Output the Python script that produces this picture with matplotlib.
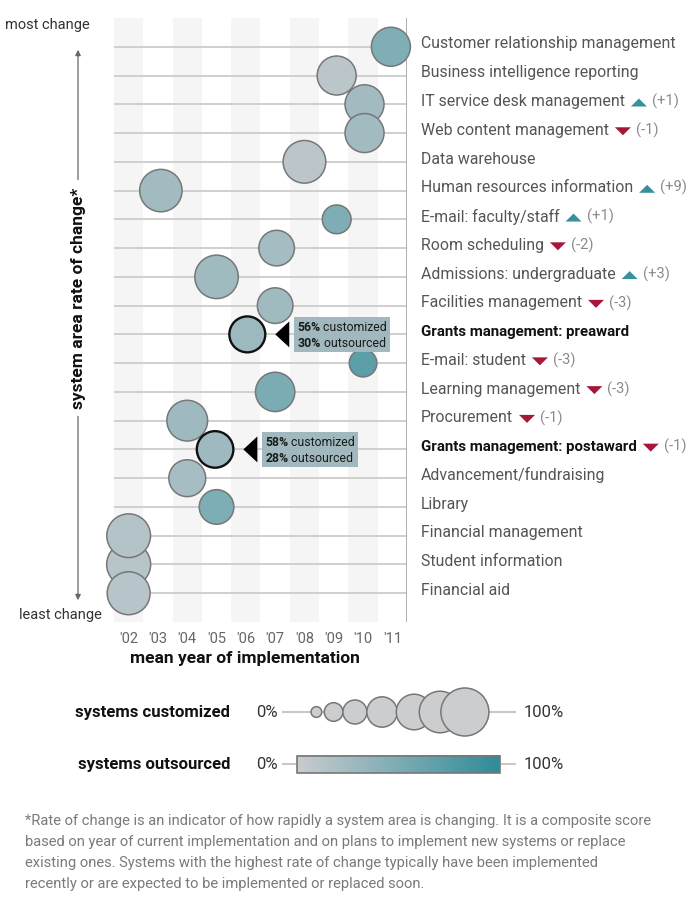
import numpy as np
import matplotlib
matplotlib.use('Agg')
import matplotlib.pyplot as plt
from matplotlib.colors import LinearSegmentedColormap
from matplotlib.patches import Rectangle, Polygon

plt.rcParams['font.family'] = ['Roboto', 'DejaVu Sans']

# data
systems = ['Customer relationship management', 'Business intelligence reporting',
           'IT service desk management', 'Web content management', 'Data warehouse',
           'Human resources information', 'E-mail: faculty/staff', 'Room scheduling',
           'Admissions: undergraduate', 'Facilities management',
           'Grants management: preaward', 'E-mail: student', 'Learning management',
           'Procurement', 'Grants management: postaward', 'Advancement/fundraising',
           'Library', 'Financial management', 'Student information', 'Financial aid']
mean_year = [2010.95, 2009.1, 2010.05, 2010.05, 2008.0, 2003.1, 2009.1, 2007.05, 2005.0, 2007.0,
             2006.05, 2010.0, 2007.0, 2004.0, 2004.95, 2004.0, 2005.0, 2002.0, 2002.0, 2002.0]
customized = [66, 66, 66, 66, 79, 78, 36, 55, 82, 55, 56, 33, 67, 72, 58, 59, 52, 83, 84, 80]
outsourced = [47, 10, 26, 26, 10, 26, 48, 24, 27, 27, 30, 70, 50, 28, 28, 23, 49, 14, 12, 12]
rank_change = [0, 0, 1, -1, 0, 9, 1, -2, 3, -3, 0, -3, -3, -1, -1, 0, 0, 0, 0, 0]
highlight = ['Grants management: preaward', 'Grants management: postaward']

years = list(range(2002, 2012))
year_labels = ["'02", "'03", "'04", "'05", "'06", "'07", "'08", "'09", "'10", "'11"]

legend_pcts = [5, 15, 25, 40, 55, 75, 100]
legend_pos = [14.4, 21.8, 31, 42.7, 56.5, 67.7, 78.4]  # along the 0-100% line

footnote = ["*Rate of change is an indicator of how rapidly a system area is changing. It is a composite score",
            "based on year of current implementation and on plans to implement new systems or replace",
            "existing ones. Systems with the highest rate of change typically have been implemented",
            "recently or are expected to be implemented or replaced soon."]

W, H = 700, 905
fig = plt.figure(figsize=(7, 9.05), dpi=100)

def box(x0, y0, x1, y1):
    return [x0 / W, 1 - y1 / H, (x1 - x0) / W, (y1 - y0) / H]

teal = '#3a8f9d'
red = '#a8173a'
cmap = LinearSegmentedColormap.from_list('outs', ['#c9cccf', '#2e8c99'])

# main chart
ax = fig.add_axes(box(114, 18, 407, 622))
n = len(systems)
rows = np.arange(1, n + 1)
ax.set_xlim(2001.5, 2011.5)
ax.set_ylim(n + 1, 0)
for yr in years[::2]:
    ax.axvspan(yr - 0.5, yr + 0.5, color='#f5f5f5', lw=0, zorder=0)
ax.hlines(rows, 2001.5, 2011.5, color='#cfcfcf', lw=1.4, zorder=1)
ax.axvline(2011.5, color='#a8a8a8', lw=1.3, zorder=1)

radius = 2.4 * np.sqrt(np.array(customized))  # pixels
sizes = (2 * radius * 0.72) ** 2
order = np.argsort(-radius, kind='stable')
is_hi = np.array([s in highlight for s in systems])
ax.scatter(np.array(mean_year)[order], rows[order], s=sizes[order],
           c=cmap(np.array(outsourced)[order] / 100),
           edgecolors=np.where(is_hi[order], '#111111', '#777777'),
           linewidths=np.where(is_hi[order], 1.7, 1.1), zorder=3, clip_on=False)

ax.set_xticks(years)
ax.set_xticklabels(year_labels, color='#666666', fontsize=10.5)
ax.tick_params(length=0, pad=7)
ax.set_yticks([])
for sp in ax.spines.values():
    sp.set_visible(False)

labels = []
for i, name in enumerate(systems):
    hi = name in highlight
    t = ax.annotate(name, xy=(1, rows[i]), xycoords=('axes fraction', 'data'),
                    xytext=(10, 2), textcoords='offset points', va='center', ha='left',
                    fontsize=10.8 if hi else 11.4, color='#111111' if hi else '#555555',
                    fontweight='bold' if hi else 'normal')
    labels.append(t)

# overlay in pixel coordinates (y down)
ov = fig.add_axes([0, 0, 1, 1])
ov.axis('off')

ylab = ov.text(78, 298, 'system area rate of change*', rotation=90, ha='center', va='center',
               fontsize=12.5, fontweight='bold', color='#111111')
ov.text(5, 25, 'most change', ha='left', va='center', fontsize=10.5, color='#333333')
ov.text(19, 615, 'least change', ha='left', va='center', fontsize=10.5, color='#333333')
ov.text(245, 658, 'mean year of implementation', ha='center', va='center',
        fontsize=12.5, fontweight='bold', color='#111111')

ov.set_xlim(0, W)
ov.set_ylim(H, 0)
fig.canvas.draw()
rend = fig.canvas.get_renderer()

# arrows around the vertical label
bb = ylab.get_window_extent(rend)
ov.annotate('', xy=(78, 47), xytext=(78, H - bb.y1 - 5),
            arrowprops=dict(arrowstyle='-|>', color='#666666', lw=0.9, mutation_scale=8))
ov.annotate('', xy=(78, 603), xytext=(78, H - bb.y0 + 5),
            arrowprops=dict(arrowstyle='-|>', color='#666666', lw=0.9, mutation_scale=8))

# rank change triangles
for t, ch in zip(labels, rank_change):
    if ch == 0:
        continue
    bb = t.get_window_extent(rend)
    cx = bb.x1 + 14
    cy = H - (bb.y0 + bb.y1) / 2 + 1
    if ch > 0:
        pts = [(cx - 8, cy + 4), (cx + 8, cy + 4), (cx, cy - 4)]
        col = teal
        txt = '(+%d)' % ch
    else:
        pts = [(cx - 8, cy - 4), (cx + 8, cy - 4), (cx, cy + 4)]
        col = red
        txt = '(-%d)' % -ch
    ov.add_patch(Polygon(pts, closed=True, fc=col, ec='none'))
    ov.text(cx + 13, cy - 1, txt, ha='left', va='center', fontsize=10.6, color='#8a8a8a')

# callouts for highlighted systems
for i, name in enumerate(systems):
    if name not in highlight:
        continue
    dx, dy = ax.transData.transform((mean_year[i], rows[i]))
    cy = H - dy
    tip = dx + radius[i] + 10
    ov.add_patch(Polygon([(tip, cy), (tip + 14, cy - 13), (tip + 14, cy + 13)], closed=True,
                         fc='#000000', ec='none'))
    left = tip + 19
    widths = []
    for k, (pct, word) in enumerate([(customized[i], ' customized'), (outsourced[i], ' outsourced')]):
        yy = cy - 7 + 16 * k
        b = ov.text(left + 3, yy, '%d%%' % pct, ha='left', va='center', fontsize=8.8,
                    fontweight='bold', color='#1a1a1a', zorder=5)
        bw = b.get_window_extent(rend)
        w = ov.text(bw.x1, yy, word, ha='left', va='center', fontsize=8.8, color='#1a1a1a', zorder=5)
        ww = w.get_window_extent(rend)
        widths.append(ww.x1 - left)
    ov.add_patch(Rectangle((left, cy - 17), max(widths) + 3, 35, fc='#a0b8be', ec='none', zorder=4))

# legend
lx0, lx1 = 283, 515
def lx(p):
    return lx0 + p / 100 * (lx1 - lx0)

ov.text(230, 712, 'systems customized', ha='right', va='center', fontsize=12,
        fontweight='bold', color='#111111')
ov.text(230, 764, 'systems outsourced', ha='right', va='center', fontsize=12,
        fontweight='bold', color='#111111')
for yy in (712, 764):
    ov.text(278, yy, '0%', ha='right', va='center', fontsize=12, color='#333333')
    ov.text(524, yy, '100%', ha='left', va='center', fontsize=12, color='#333333')
    ov.plot([lx0, lx1], [yy, yy], color='#c8c8c8', lw=1.5, zorder=1)

lr = 2.4 * np.sqrt(np.array(legend_pcts))
ov.scatter([lx(p) for p in legend_pos], [712] * len(legend_pcts), s=(2 * lr * 0.72) ** 2,
           c='#cccdcf', edgecolors='#777777', linewidths=1.1, zorder=3)

grad = np.linspace(0, 1, 256).reshape(1, -1)
ov.imshow(grad, extent=[297, 500, 773, 756], cmap=cmap, aspect='auto', zorder=2)
ov.add_patch(Rectangle((297, 756), 203, 17, fc='none', ec='#777777', lw=1.2, zorder=3))

for k, line in enumerate(footnote):
    ov.text(25, 821 + 21 * k, line, ha='left', va='center', fontsize=10.6, color='#7a7a7a')

ov.set_xlim(0, W)
ov.set_ylim(H, 0)

fig.savefig('out.png', dpi=100)
